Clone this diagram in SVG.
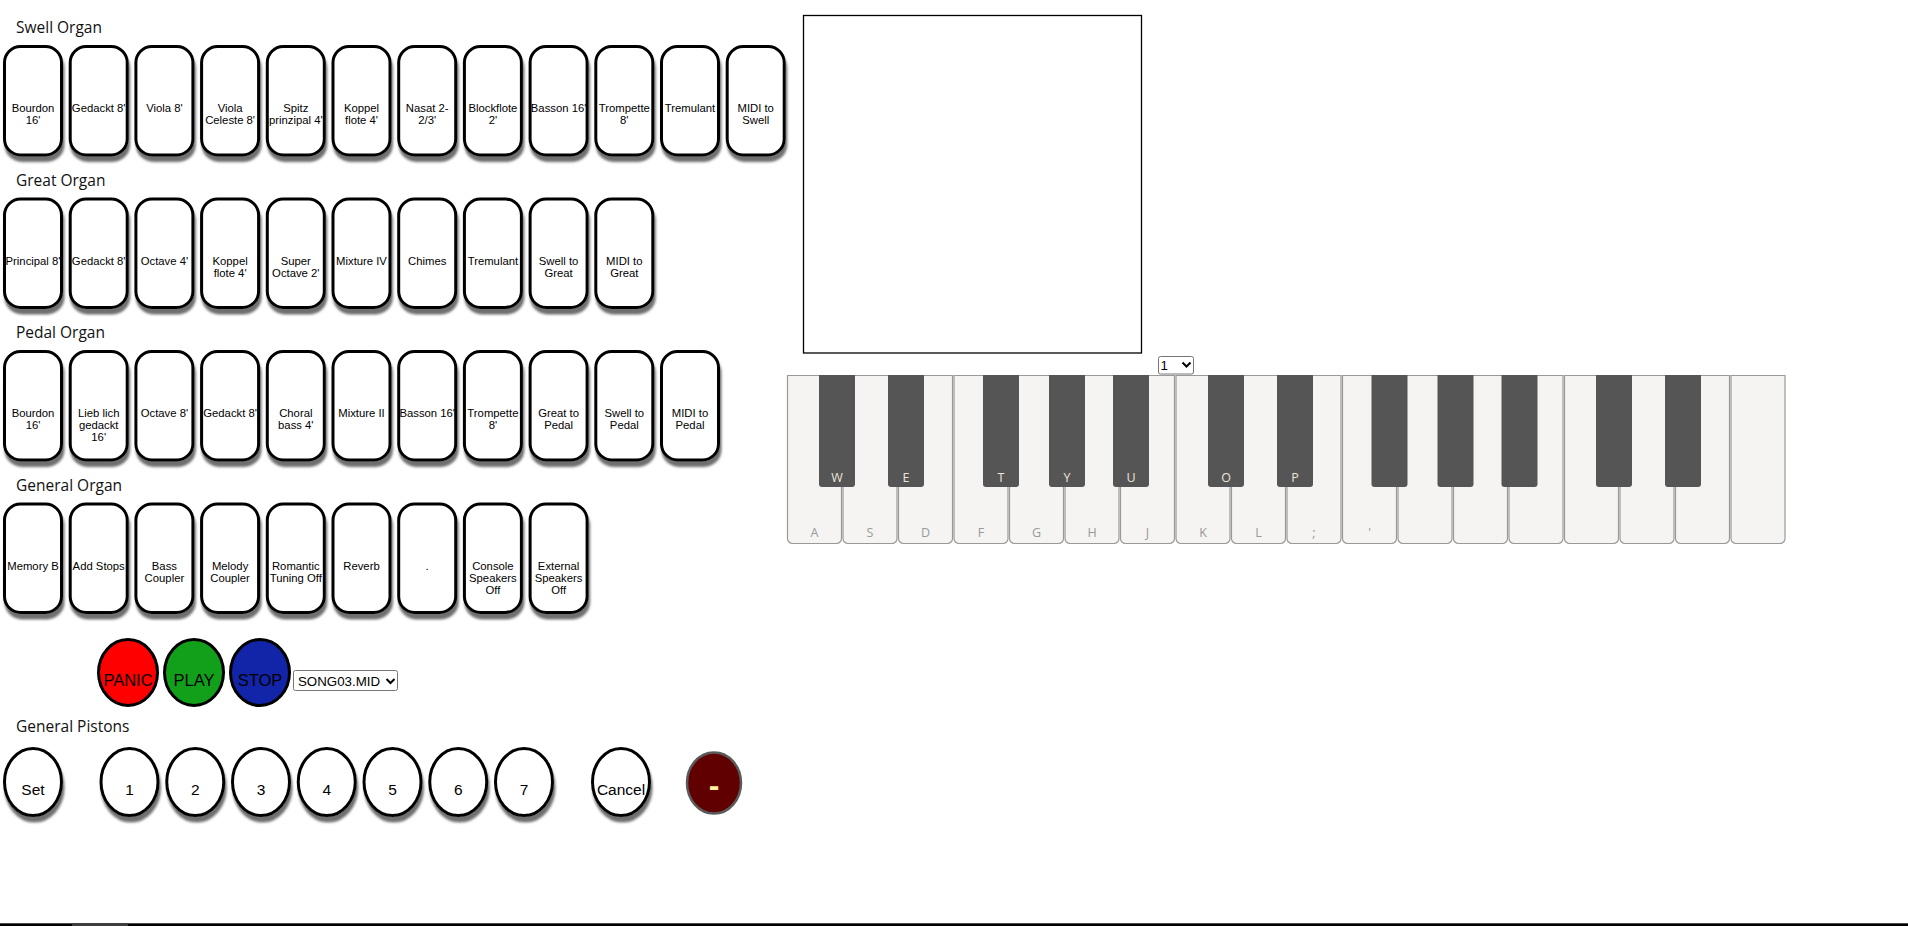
<svg xmlns="http://www.w3.org/2000/svg" width="1908" height="926" viewBox="0 0 1908 926">
<style>
.hd{font-family:"Open Sans","Noto Sans",sans-serif;font-size:15.5px;fill:#111}
.btn{fill:#fff;stroke:#000;stroke-width:3;filter:url(#sh)}
.bl{font-family:"Liberation Sans",Arial,sans-serif;font-size:11.3px;fill:#000;text-anchor:middle}
.pis{fill:#fff;stroke:#000;stroke-width:3;filter:url(#sh)}
.pl{font-family:"Liberation Sans",Arial,sans-serif;font-size:15.5px;fill:#000;text-anchor:middle}
.big{stroke:#000;stroke-width:3}
.bt{font-family:"Liberation Sans",Arial,sans-serif;font-size:16.5px;fill:#000;text-anchor:middle}
.sel{fill:#fff;stroke:#767676;stroke-width:1}
.st{font-family:"Liberation Sans",Arial,sans-serif;font-size:13.3px;fill:#000}
.chev{fill:none;stroke:#000;stroke-width:2}
.wk{fill:#f5f4f2;stroke:#999;stroke-width:1.2}
.bk{fill:#555}
.wl{font-family:"Open Sans","Noto Sans",sans-serif;font-size:12.5px;fill:#999;text-anchor:middle}
.bkl{font-family:"Open Sans","Noto Sans",sans-serif;font-size:12.5px;fill:#ece4da;text-anchor:middle}
</style>
<defs>
<filter id="sh" x="-20%" y="-20%" width="150%" height="150%">
<feDropShadow dx="1.5" dy="5.5" stdDeviation="1.2" flood-color="#555" flood-opacity="0.85"/>
</filter>
</defs>
<rect width="1908" height="926" fill="#fff"/>

<g id="headings">
<text class="hd" x="16" y="33">Swell Organ</text>
<text class="hd" x="16" y="185.5">Great Organ</text>
<text class="hd" x="16" y="338">Pedal Organ</text>
<text class="hd" x="16" y="490.5">General Organ</text>
<text class="hd" x="16" y="732">General Pistons</text>
</g>

<g id="swell">
<g id="swell-1" transform="translate(3,45)"><rect class="btn" x="1.5" y="1.5" width="57" height="108.5" rx="16"/><text class="bl" x="30" y="67"><tspan x="30">Bourdon</tspan><tspan x="30" dy="12">16'</tspan></text></g>
<g id="swell-2" transform="translate(68.7,45)"><rect class="btn" x="1.5" y="1.5" width="57" height="108.5" rx="16"/><text class="bl" x="30" y="67">Gedackt 8'</text></g>
<g id="swell-3" transform="translate(134.4,45)"><rect class="btn" x="1.5" y="1.5" width="57" height="108.5" rx="16"/><text class="bl" x="30" y="67">Viola 8'</text></g>
<g id="swell-4" transform="translate(200.1,45)"><rect class="btn" x="1.5" y="1.5" width="57" height="108.5" rx="16"/><text class="bl" x="30" y="67"><tspan x="30">Viola</tspan><tspan x="30" dy="12">Celeste 8'</tspan></text></g>
<g id="swell-5" transform="translate(265.8,45)"><rect class="btn" x="1.5" y="1.5" width="57" height="108.5" rx="16"/><text class="bl" x="30" y="67"><tspan x="30">Spitz</tspan><tspan x="30" dy="12">prinzipal 4'</tspan></text></g>
<g id="swell-6" transform="translate(331.5,45)"><rect class="btn" x="1.5" y="1.5" width="57" height="108.5" rx="16"/><text class="bl" x="30" y="67"><tspan x="30">Koppel</tspan><tspan x="30" dy="12">flote 4'</tspan></text></g>
<g id="swell-7" transform="translate(397.2,45)"><rect class="btn" x="1.5" y="1.5" width="57" height="108.5" rx="16"/><text class="bl" x="30" y="67"><tspan x="30">Nasat 2-</tspan><tspan x="30" dy="12">2/3'</tspan></text></g>
<g id="swell-8" transform="translate(462.9,45)"><rect class="btn" x="1.5" y="1.5" width="57" height="108.5" rx="16"/><text class="bl" x="30" y="67"><tspan x="30">Blockflote</tspan><tspan x="30" dy="12">2'</tspan></text></g>
<g id="swell-9" transform="translate(528.6,45)"><rect class="btn" x="1.5" y="1.5" width="57" height="108.5" rx="16"/><text class="bl" x="30" y="67">Basson 16'</text></g>
<g id="swell-10" transform="translate(594.3,45)"><rect class="btn" x="1.5" y="1.5" width="57" height="108.5" rx="16"/><text class="bl" x="30" y="67"><tspan x="30">Trompette</tspan><tspan x="30" dy="12">8'</tspan></text></g>
<g id="swell-11" transform="translate(660,45)"><rect class="btn" x="1.5" y="1.5" width="57" height="108.5" rx="16"/><text class="bl" x="30" y="67">Tremulant</text></g>
<g id="swell-12" transform="translate(725.7,45)"><rect class="btn" x="1.5" y="1.5" width="57" height="108.5" rx="16"/><text class="bl" x="30" y="67"><tspan x="30">MIDI to</tspan><tspan x="30" dy="12">Swell</tspan></text></g>
</g>

<g id="great">
<g id="great-1" transform="translate(3,197.5)"><rect class="btn" x="1.5" y="1.5" width="57" height="108.5" rx="16"/><text class="bl" x="30" y="67">Principal 8'</text></g>
<g id="great-2" transform="translate(68.7,197.5)"><rect class="btn" x="1.5" y="1.5" width="57" height="108.5" rx="16"/><text class="bl" x="30" y="67">Gedackt 8'</text></g>
<g id="great-3" transform="translate(134.4,197.5)"><rect class="btn" x="1.5" y="1.5" width="57" height="108.5" rx="16"/><text class="bl" x="30" y="67">Octave 4'</text></g>
<g id="great-4" transform="translate(200.1,197.5)"><rect class="btn" x="1.5" y="1.5" width="57" height="108.5" rx="16"/><text class="bl" x="30" y="67"><tspan x="30">Koppel</tspan><tspan x="30" dy="12">flote 4'</tspan></text></g>
<g id="great-5" transform="translate(265.8,197.5)"><rect class="btn" x="1.5" y="1.5" width="57" height="108.5" rx="16"/><text class="bl" x="30" y="67"><tspan x="30">Super</tspan><tspan x="30" dy="12">Octave 2'</tspan></text></g>
<g id="great-6" transform="translate(331.5,197.5)"><rect class="btn" x="1.5" y="1.5" width="57" height="108.5" rx="16"/><text class="bl" x="30" y="67">Mixture IV</text></g>
<g id="great-7" transform="translate(397.2,197.5)"><rect class="btn" x="1.5" y="1.5" width="57" height="108.5" rx="16"/><text class="bl" x="30" y="67">Chimes</text></g>
<g id="great-8" transform="translate(462.9,197.5)"><rect class="btn" x="1.5" y="1.5" width="57" height="108.5" rx="16"/><text class="bl" x="30" y="67">Tremulant</text></g>
<g id="great-9" transform="translate(528.6,197.5)"><rect class="btn" x="1.5" y="1.5" width="57" height="108.5" rx="16"/><text class="bl" x="30" y="67"><tspan x="30">Swell to</tspan><tspan x="30" dy="12">Great</tspan></text></g>
<g id="great-10" transform="translate(594.3,197.5)"><rect class="btn" x="1.5" y="1.5" width="57" height="108.5" rx="16"/><text class="bl" x="30" y="67"><tspan x="30">MIDI to</tspan><tspan x="30" dy="12">Great</tspan></text></g>
</g>

<g id="pedal">
<g id="pedal-1" transform="translate(3,350)"><rect class="btn" x="1.5" y="1.5" width="57" height="108.5" rx="16"/><text class="bl" x="30" y="67"><tspan x="30">Bourdon</tspan><tspan x="30" dy="12">16'</tspan></text></g>
<g id="pedal-2" transform="translate(68.7,350)"><rect class="btn" x="1.5" y="1.5" width="57" height="108.5" rx="16"/><text class="bl" x="30" y="67"><tspan x="30">Lieb lich</tspan><tspan x="30" dy="12">gedackt</tspan><tspan x="30" dy="12">16'</tspan></text></g>
<g id="pedal-3" transform="translate(134.4,350)"><rect class="btn" x="1.5" y="1.5" width="57" height="108.5" rx="16"/><text class="bl" x="30" y="67">Octave 8'</text></g>
<g id="pedal-4" transform="translate(200.1,350)"><rect class="btn" x="1.5" y="1.5" width="57" height="108.5" rx="16"/><text class="bl" x="30" y="67">Gedackt 8'</text></g>
<g id="pedal-5" transform="translate(265.8,350)"><rect class="btn" x="1.5" y="1.5" width="57" height="108.5" rx="16"/><text class="bl" x="30" y="67"><tspan x="30">Choral</tspan><tspan x="30" dy="12">bass 4'</tspan></text></g>
<g id="pedal-6" transform="translate(331.5,350)"><rect class="btn" x="1.5" y="1.5" width="57" height="108.5" rx="16"/><text class="bl" x="30" y="67">Mixture II</text></g>
<g id="pedal-7" transform="translate(397.2,350)"><rect class="btn" x="1.5" y="1.5" width="57" height="108.5" rx="16"/><text class="bl" x="30" y="67">Basson 16'</text></g>
<g id="pedal-8" transform="translate(462.9,350)"><rect class="btn" x="1.5" y="1.5" width="57" height="108.5" rx="16"/><text class="bl" x="30" y="67"><tspan x="30">Trompette</tspan><tspan x="30" dy="12">8'</tspan></text></g>
<g id="pedal-9" transform="translate(528.6,350)"><rect class="btn" x="1.5" y="1.5" width="57" height="108.5" rx="16"/><text class="bl" x="30" y="67"><tspan x="30">Great to</tspan><tspan x="30" dy="12">Pedal</tspan></text></g>
<g id="pedal-10" transform="translate(594.3,350)"><rect class="btn" x="1.5" y="1.5" width="57" height="108.5" rx="16"/><text class="bl" x="30" y="67"><tspan x="30">Swell to</tspan><tspan x="30" dy="12">Pedal</tspan></text></g>
<g id="pedal-11" transform="translate(660,350)"><rect class="btn" x="1.5" y="1.5" width="57" height="108.5" rx="16"/><text class="bl" x="30" y="67"><tspan x="30">MIDI to</tspan><tspan x="30" dy="12">Pedal</tspan></text></g>
</g>

<g id="general">
<g id="general-1" transform="translate(3,502.5)"><rect class="btn" x="1.5" y="1.5" width="57" height="108.5" rx="16"/><text class="bl" x="30" y="67">Memory B</text></g>
<g id="general-2" transform="translate(68.7,502.5)"><rect class="btn" x="1.5" y="1.5" width="57" height="108.5" rx="16"/><text class="bl" x="30" y="67">Add Stops</text></g>
<g id="general-3" transform="translate(134.4,502.5)"><rect class="btn" x="1.5" y="1.5" width="57" height="108.5" rx="16"/><text class="bl" x="30" y="67"><tspan x="30">Bass</tspan><tspan x="30" dy="12">Coupler</tspan></text></g>
<g id="general-4" transform="translate(200.1,502.5)"><rect class="btn" x="1.5" y="1.5" width="57" height="108.5" rx="16"/><text class="bl" x="30" y="67"><tspan x="30">Melody</tspan><tspan x="30" dy="12">Coupler</tspan></text></g>
<g id="general-5" transform="translate(265.8,502.5)"><rect class="btn" x="1.5" y="1.5" width="57" height="108.5" rx="16"/><text class="bl" x="30" y="67"><tspan x="30">Romantic</tspan><tspan x="30" dy="12">Tuning Off</tspan></text></g>
<g id="general-6" transform="translate(331.5,502.5)"><rect class="btn" x="1.5" y="1.5" width="57" height="108.5" rx="16"/><text class="bl" x="30" y="67">Reverb</text></g>
<g id="general-7" transform="translate(397.2,502.5)"><rect class="btn" x="1.5" y="1.5" width="57" height="108.5" rx="16"/><text class="bl" x="30" y="67">.</text></g>
<g id="general-8" transform="translate(462.9,502.5)"><rect class="btn" x="1.5" y="1.5" width="57" height="108.5" rx="16"/><text class="bl" x="30" y="67"><tspan x="30">Console</tspan><tspan x="30" dy="12">Speakers</tspan><tspan x="30" dy="12">Off</tspan></text></g>
<g id="general-9" transform="translate(528.6,502.5)"><rect class="btn" x="1.5" y="1.5" width="57" height="108.5" rx="16"/><text class="bl" x="30" y="67"><tspan x="30">External</tspan><tspan x="30" dy="12">Speakers</tspan><tspan x="30" dy="12">Off</tspan></text></g>
</g>

<g id="transport">
<g id="panic"><ellipse class="big" cx="128" cy="672.5" rx="29.5" ry="33" fill="#ff0000"/><text class="bt" x="128" y="686">PANIC</text></g>
<g id="play"><ellipse class="big" cx="194" cy="672.5" rx="29.5" ry="33" fill="#12a01a"/><text class="bt" x="194" y="686">PLAY</text></g>
<g id="stop"><ellipse class="big" cx="260" cy="672.5" rx="29.5" ry="33" fill="#1224a8"/><text class="bt" x="260" y="686">STOP</text></g>
<g id="song-select"><rect class="sel" x="293.5" y="670.5" width="104" height="20" rx="2"/><text class="st" x="298" y="686">SONG03.MID</text><path class="chev" d="M386.5 679 L390.5 683 L394.5 679"/></g>
</g>

<g id="pistons">
<g id="piston-set"><ellipse class="pis" cx="33" cy="782" rx="28.5" ry="33.5"/><text class="pl" x="33" y="795">Set</text></g>
<g id="piston-1"><ellipse class="pis" cx="129.5" cy="782" rx="28.5" ry="33.5"/><text class="pl" x="129.5" y="795">1</text></g>
<g id="piston-2"><ellipse class="pis" cx="195.25" cy="782" rx="28.5" ry="33.5"/><text class="pl" x="195.25" y="795">2</text></g>
<g id="piston-3"><ellipse class="pis" cx="261" cy="782" rx="28.5" ry="33.5"/><text class="pl" x="261" y="795">3</text></g>
<g id="piston-4"><ellipse class="pis" cx="326.75" cy="782" rx="28.5" ry="33.5"/><text class="pl" x="326.75" y="795">4</text></g>
<g id="piston-5"><ellipse class="pis" cx="392.5" cy="782" rx="28.5" ry="33.5"/><text class="pl" x="392.5" y="795">5</text></g>
<g id="piston-6"><ellipse class="pis" cx="458.25" cy="782" rx="28.5" ry="33.5"/><text class="pl" x="458.25" y="795">6</text></g>
<g id="piston-7"><ellipse class="pis" cx="524" cy="782" rx="28.5" ry="33.5"/><text class="pl" x="524" y="795">7</text></g>
<g id="piston-cancel"><ellipse class="pis" cx="621" cy="782" rx="28.5" ry="33.5"/><text class="pl" x="621" y="795">Cancel</text></g>
<g id="piston-minus"><ellipse cx="714" cy="783" rx="27" ry="30.5" fill="#600000" stroke="#5a5a5a" stroke-width="2.5"/><text x="714" y="796" font-family="Liberation Sans,Arial,sans-serif" font-size="32" font-weight="bold" fill="#fff0a0" text-anchor="middle">-</text></g>
</g>

<g id="display">
<rect x="803.5" y="15.5" width="338" height="337.5" fill="#fff" stroke="#000" stroke-width="1.3"/>
</g>

<g id="channel-select">
<rect class="sel" x="1158.5" y="356.5" width="35" height="17.5" rx="2"/>
<text class="st" x="1160.5" y="370">1</text>
<path class="chev" d="M1182.5 362.5 L1186.5 366.5 L1190.5 362.5"/>
</g>

<g id="keyboard">
<g id="white-keys">
<path class="wk" d="M787.5 375.5 h54 v163 a5 5 0 0 1 -5 5 h-44 a5 5 0 0 1 -5 -5 z"/>
<path class="wk" d="M843 375.5 h54 v163 a5 5 0 0 1 -5 5 h-44 a5 5 0 0 1 -5 -5 z"/>
<path class="wk" d="M898.5 375.5 h54 v163 a5 5 0 0 1 -5 5 h-44 a5 5 0 0 1 -5 -5 z"/>
<path class="wk" d="M954 375.5 h54 v163 a5 5 0 0 1 -5 5 h-44 a5 5 0 0 1 -5 -5 z"/>
<path class="wk" d="M1009.5 375.5 h54 v163 a5 5 0 0 1 -5 5 h-44 a5 5 0 0 1 -5 -5 z"/>
<path class="wk" d="M1065 375.5 h54 v163 a5 5 0 0 1 -5 5 h-44 a5 5 0 0 1 -5 -5 z"/>
<path class="wk" d="M1120.5 375.5 h54 v163 a5 5 0 0 1 -5 5 h-44 a5 5 0 0 1 -5 -5 z"/>
<path class="wk" d="M1176 375.5 h54 v163 a5 5 0 0 1 -5 5 h-44 a5 5 0 0 1 -5 -5 z"/>
<path class="wk" d="M1231.5 375.5 h54 v163 a5 5 0 0 1 -5 5 h-44 a5 5 0 0 1 -5 -5 z"/>
<path class="wk" d="M1287 375.5 h54 v163 a5 5 0 0 1 -5 5 h-44 a5 5 0 0 1 -5 -5 z"/>
<path class="wk" d="M1342.5 375.5 h54 v163 a5 5 0 0 1 -5 5 h-44 a5 5 0 0 1 -5 -5 z"/>
<path class="wk" d="M1398 375.5 h54 v163 a5 5 0 0 1 -5 5 h-44 a5 5 0 0 1 -5 -5 z"/>
<path class="wk" d="M1453.5 375.5 h54 v163 a5 5 0 0 1 -5 5 h-44 a5 5 0 0 1 -5 -5 z"/>
<path class="wk" d="M1509 375.5 h54 v163 a5 5 0 0 1 -5 5 h-44 a5 5 0 0 1 -5 -5 z"/>
<path class="wk" d="M1564.5 375.5 h54 v163 a5 5 0 0 1 -5 5 h-44 a5 5 0 0 1 -5 -5 z"/>
<path class="wk" d="M1620 375.5 h54 v163 a5 5 0 0 1 -5 5 h-44 a5 5 0 0 1 -5 -5 z"/>
<path class="wk" d="M1675.5 375.5 h54 v163 a5 5 0 0 1 -5 5 h-44 a5 5 0 0 1 -5 -5 z"/>
<path class="wk" d="M1731 375.5 h54 v163 a5 5 0 0 1 -5 5 h-44 a5 5 0 0 1 -5 -5 z"/>
</g>
<g id="white-labels">
<text class="wl" x="814.5" y="537">A</text>
<text class="wl" x="870" y="537">S</text>
<text class="wl" x="925.5" y="537">D</text>
<text class="wl" x="981" y="537">F</text>
<text class="wl" x="1036.5" y="537">G</text>
<text class="wl" x="1092" y="537">H</text>
<text class="wl" x="1147.5" y="537">J</text>
<text class="wl" x="1203" y="537">K</text>
<text class="wl" x="1258.5" y="537">L</text>
<text class="wl" x="1314" y="537">;</text>
<text class="wl" x="1369.5" y="537">'</text>
</g>
<g id="black-keys">
<path class="bk" d="M819 375 h36 v109 a3 3 0 0 1 -3 3 h-30 a3 3 0 0 1 -3 -3 z"/>
<path class="bk" d="M888 375 h36 v109 a3 3 0 0 1 -3 3 h-30 a3 3 0 0 1 -3 -3 z"/>
<path class="bk" d="M983 375 h36 v109 a3 3 0 0 1 -3 3 h-30 a3 3 0 0 1 -3 -3 z"/>
<path class="bk" d="M1049 375 h36 v109 a3 3 0 0 1 -3 3 h-30 a3 3 0 0 1 -3 -3 z"/>
<path class="bk" d="M1113 375 h36 v109 a3 3 0 0 1 -3 3 h-30 a3 3 0 0 1 -3 -3 z"/>
<path class="bk" d="M1208 375 h36 v109 a3 3 0 0 1 -3 3 h-30 a3 3 0 0 1 -3 -3 z"/>
<path class="bk" d="M1277 375 h36 v109 a3 3 0 0 1 -3 3 h-30 a3 3 0 0 1 -3 -3 z"/>
<path class="bk" d="M1371.5 375 h36 v109 a3 3 0 0 1 -3 3 h-30 a3 3 0 0 1 -3 -3 z"/>
<path class="bk" d="M1437.5 375 h36 v109 a3 3 0 0 1 -3 3 h-30 a3 3 0 0 1 -3 -3 z"/>
<path class="bk" d="M1501.5 375 h36 v109 a3 3 0 0 1 -3 3 h-30 a3 3 0 0 1 -3 -3 z"/>
<path class="bk" d="M1596 375 h36 v109 a3 3 0 0 1 -3 3 h-30 a3 3 0 0 1 -3 -3 z"/>
<path class="bk" d="M1665 375 h36 v109 a3 3 0 0 1 -3 3 h-30 a3 3 0 0 1 -3 -3 z"/>
</g>
<g id="black-labels">
<text class="bkl" x="837" y="481.5">W</text>
<text class="bkl" x="906" y="481.5">E</text>
<text class="bkl" x="1001" y="481.5">T</text>
<text class="bkl" x="1067" y="481.5">Y</text>
<text class="bkl" x="1131" y="481.5">U</text>
<text class="bkl" x="1226" y="481.5">O</text>
<text class="bkl" x="1295" y="481.5">P</text>
</g>
</g>

<g id="bottom-bar">
<rect x="0" y="923.3" width="1908" height="2.7" fill="#000"/>
<rect x="72" y="923.3" width="56" height="2.7" fill="#3c3c3c"/>
</g>
</svg>
